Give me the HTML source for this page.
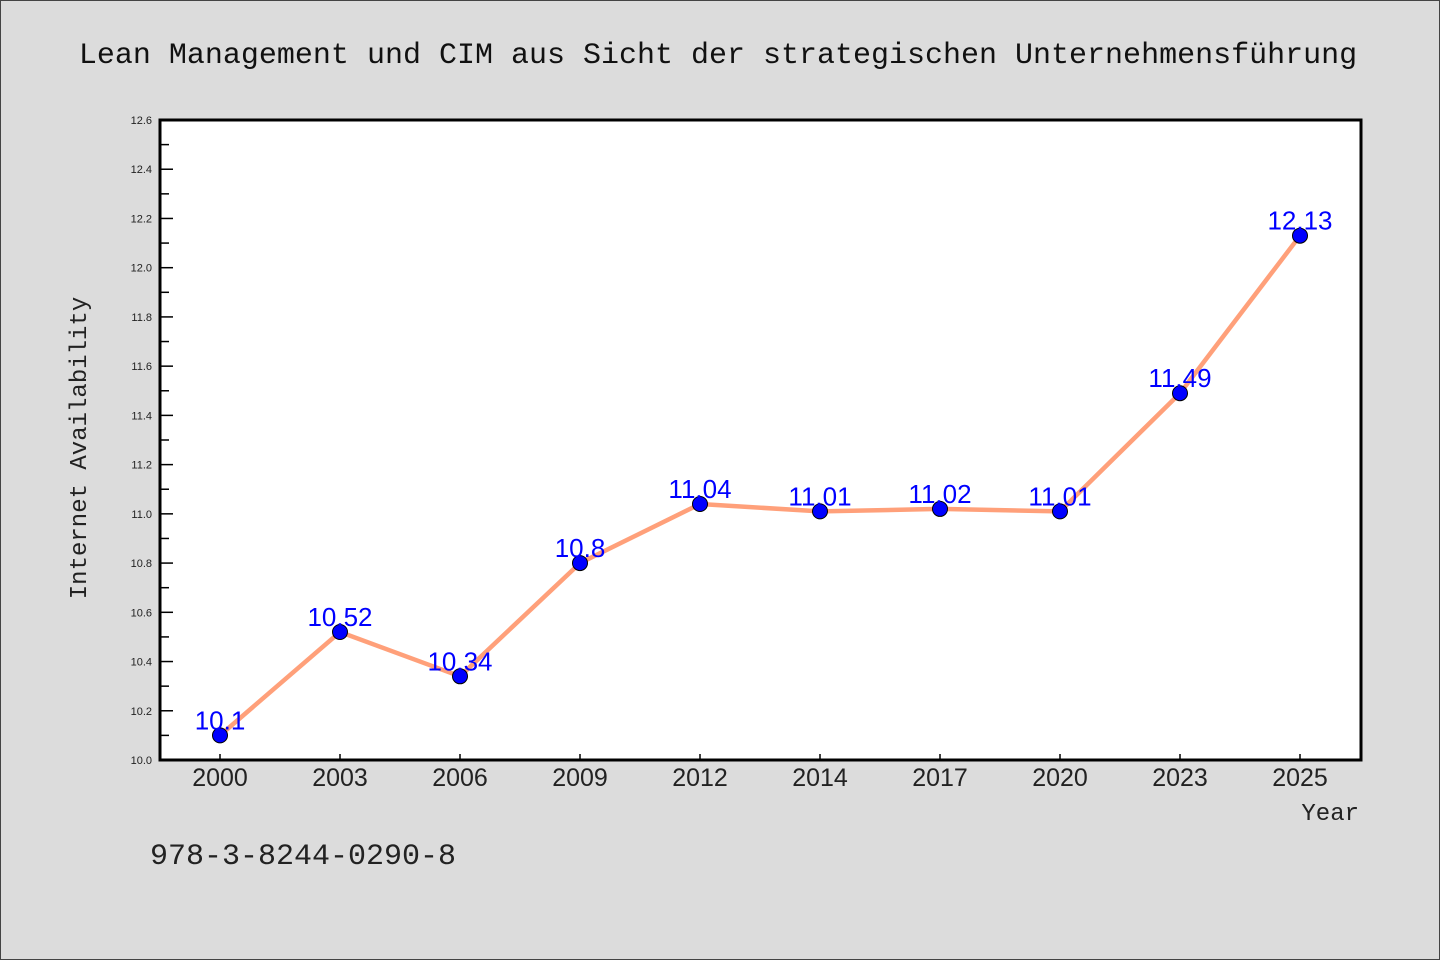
<!DOCTYPE html>
<html><head><meta charset="utf-8"><style>
html,body{margin:0;padding:0;background:#dcdcdc;}
svg{display:block;font-family:"Liberation Mono","DejaVu Sans Mono",monospace;}
</style></head><body>
<svg id="chart" width="1440" height="960" xmlns="http://www.w3.org/2000/svg">
<rect x="0.5" y="0.5" width="1439" height="959" fill="#dcdcdc" stroke="#444"/>
<text x="718" y="63" font-size="30" text-anchor="middle" fill="#111">Lean Management und CIM aus Sicht der strategischen Unternehmensführung</text>
<rect x="160" y="120" width="1201" height="640" fill="#fff"/>
<g id="yticks"></g><g id="xticks"></g>
<rect x="160" y="120" width="1201" height="640" fill="none" stroke="#000" stroke-width="3"/>
<g id="series"></g>
<text x="86" y="448" font-size="24" text-anchor="middle" fill="#222" transform="rotate(-90 86 448)">Internet Availability</text>
<text x="1359" y="820" font-size="24" text-anchor="end" fill="#222">Year</text>
<text x="150" y="864" font-size="30" fill="#222">978-3-8244-0290-8</text>
</svg>
<script>
const categories = ["2000","2003","2006","2009","2012","2014","2017","2020","2023","2025"];
const values = [10.1,10.52,10.34,10.8,11.04,11.01,11.02,11.01,11.49,12.13];
const valueLabels = ["10.1","10.52","10.34","10.8","11.04","11.01","11.02","11.01","11.49","12.13"];
const yTicks = ["10.0","10.2","10.4","10.6","10.8","11.0","11.2","11.4","11.6","11.8","12.0","12.2","12.4","12.6"];
const ns="http://www.w3.org/2000/svg";
const yMin=10.0,yMax=12.6,pTop=120,pBottom=760,pLeft=160;
function yScale(v){return pBottom-(v-yMin)/(yMax-yMin)*(pBottom-pTop);}
function xScale(i){return 220+i*120;}
function mk(t,a,p){const e=document.createElementNS(ns,t);for(const k in a)e.setAttribute(k,a[k]);p.appendChild(e);return e;}
const ytG=document.getElementById('yticks');
yTicks.forEach((t,i)=>{const v=parseFloat(t),yy=yScale(v);
 const l=mk('line',{x1:pLeft,x2:pLeft+13,y1:yy,y2:yy,stroke:'#000','stroke-width':1.5},ytG);
 
 
 const tx=mk('text',{x:152,y:yy+4,'font-size':11,'text-anchor':'end',fill:'#222','font-family':'Liberation Sans, sans-serif'},ytG);tx.textContent=t;
 
 
 if(i<yTicks.length-1){const ym=yScale(v+0.1);const m=mk('line',{x1:pLeft,x2:pLeft+9,y1:ym,y2:ym,stroke:'#000','stroke-width':1.5},ytG);
  
  }
});
const xtG=document.getElementById('xticks');
categories.forEach((c,i)=>{
 const l=mk('line',{x1:xScale(i),x2:xScale(i),y1:pBottom,y2:pBottom-6,stroke:'#000','stroke-width':1.5},xtG);
 
 
 const t=mk('text',{x:xScale(i),y:786,'font-size':25,'text-anchor':'middle',fill:'#222','font-family':'Liberation Sans, sans-serif'},xtG);t.textContent=c;
 
 
});
const sG=document.getElementById('series');
const pl=mk('polyline',{points:values.map((v,i)=>xScale(i)+','+yScale(v)).join(' '),fill:'none',stroke:'#ffa07a','stroke-width':4.5,'stroke-linejoin':'round'},sG);


values.forEach((v,i)=>{
 const c=mk('circle',{cx:xScale(i),cy:yScale(v),r:7.5,fill:'#0000ff',stroke:'#000','stroke-width':1},sG);
 
 
});
values.forEach((v,i)=>{
 const t=mk('text',{x:xScale(i),y:yScale(v)-6,'font-size':26,'text-anchor':'middle',fill:'#0000ff','font-family':'Liberation Sans, sans-serif'},sG);t.textContent=valueLabels[i];
 
 
});
</script>
</body></html>
